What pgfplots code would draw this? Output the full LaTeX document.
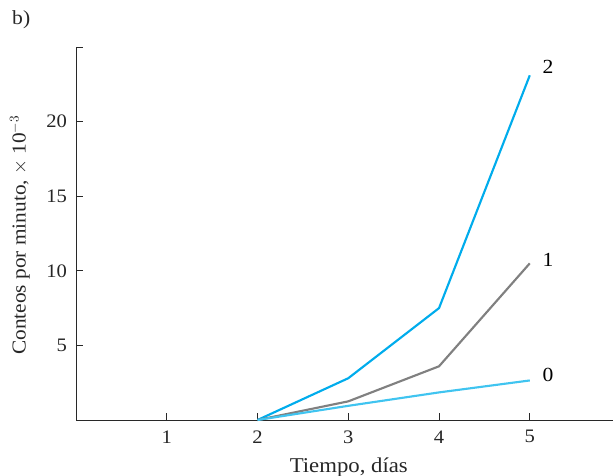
\documentclass[border=0pt]{standalone}
\usepackage{fontspec}
\setmainfont[FakeStretch=1.08]{Liberation Serif}
\usepackage{pgfplots}
\pgfplotsset{compat=1.18}
\definecolor{cTwo}{RGB}{0,172,236}
\definecolor{cOne}{RGB}{128,128,128}
\definecolor{cZero}{RGB}{64,196,240}
\definecolor{axc}{RGB}{40,40,40}
\begin{document}
\fontsize{14}{16}\selectfont
\begin{tikzpicture}
\path[use as bounding box] (-57pt,-41.25pt) rectangle (402.75pt,315pt);
\begin{axis}[
  scale only axis, width=402.75pt, height=279.75pt,
  at={(0,0)}, anchor=south west,
  xmin=0, xmax=5.917, ymin=0, ymax=25,
  axis x line*=bottom, axis y line*=left,
  xtick={1,2,3,4,5}, ytick={5,10,15,20,25},
  yticklabels={5,10,15,20,},
  tick align=inside, major tick length=5.25pt,
  tick style={line width=0.75pt, color=axc},
  axis line style={line width=0.75pt, color=axc},
  /pgf/number format/assume math mode=true,
  ticklabel style={font=\fontsize{14.3}{16}\selectfont, color=black!85},
  xticklabel style={yshift=-3pt},
  yticklabel style={xshift=-2pt},
  clip=false,
]
\addplot[cTwo, line width=1.6pt] coordinates {(2,0) (3,2.8) (4,7.5) (5,23.1)};
\addplot[cOne, line width=1.6pt] coordinates {(2,0) (3,1.25) (4,3.6) (5,10.5)};
\addplot[cZero, line width=1.6pt] coordinates {(2,0) (3,0.95) (4,1.85) (5,2.65)};
\node[anchor=west, font=\fontsize{15}{16}\selectfont] at (axis cs:5.07,23.7) {2};
\node[anchor=west, font=\fontsize{15}{16}\selectfont] at (axis cs:5.07,10.7) {1};
\node[anchor=west, font=\fontsize{15}{16}\selectfont] at (axis cs:5.07,3.0) {0};
\node[rotate=90, font=\fontsize{14.8}{16}\selectfont, color=black!85] at (axis description cs:-0.1043,0.496) {Conteos por minuto, $\times$ 10$^{-3}$};
\node[font=\fontsize{15.8}{16}\selectfont, color=black!85] at (axis description cs:0.508,-0.126) {Tiempo, días};
\node[font=\fontsize{15}{16}\selectfont, color=black!85] at (axis description cs:-0.102,1.072) {b)};
\end{axis}
\end{tikzpicture}
\end{document}
